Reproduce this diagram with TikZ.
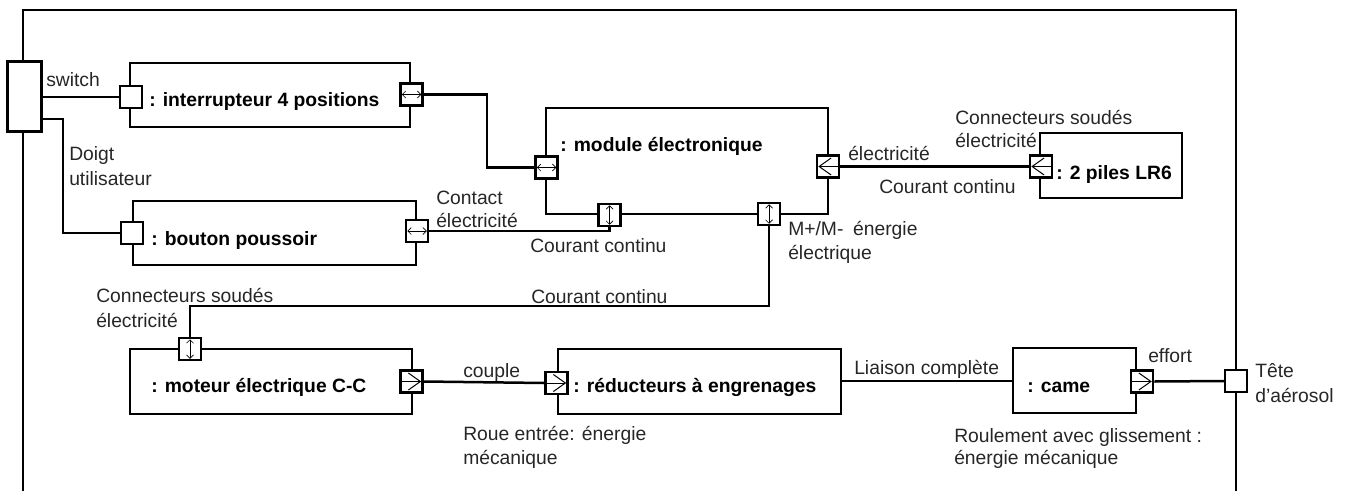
\documentclass[tikz,border=0pt]{standalone}
\usepackage{fontspec}
\setmainfont{Liberation Sans}
\usetikzlibrary{arrows.meta,calc}
\begin{document}
\begin{tikzpicture}[x=1pt,y=-1pt,line width=2.5pt,
  box/.style={draw,line width=2.5pt,inner sep=0pt},
  port/.style={draw,fill=white,line width=2.5pt,minimum size=22pt,inner sep=0pt},
  wire/.style={line width=2.5pt},
  thinwire/.style={line width=1.2pt},
  biarrow/.style={line width=0.7pt,{Straight Barb[length=3.5pt,width=7pt]}-{Straight Barb[length=3.5pt,width=7pt]}},
  chev/.style={line width=1pt,-{Straight Barb[length=12pt,width=17pt]}},
  lbl/.style={anchor=base west,inner sep=0pt,font=\fontsize{19.3}{23}\selectfont,text=black!85},
  ttl/.style={anchor=base west,inner sep=0pt,font=\fontsize{19.3}{23}\selectfont\bfseries}]
\useasboundingbox (0,0) rectangle (1348,490);
% frame
\draw[wire] (23,492) -- (23,10) -- (1236,10) -- (1236,492);
% boxes
\node[box,minimum width=280pt,minimum height=64pt] (int) at (270,95) {};
\node[box,minimum width=283pt,minimum height=64pt] (bp) at (274.5,233) {};
\node[box,minimum width=282pt,minimum height=106pt] (mod) at (687,161) {};
\node[box,minimum width=142pt,minimum height=65pt] (pil) at (1111,165.5) {};
\node[box,minimum width=282pt,minimum height=65pt] (mot) at (271,381.5) {};
\node[box,minimum width=283pt,minimum height=65pt] (red) at (699.5,381.5) {};
\node[box,minimum width=123pt,minimum height=65pt] (came) at (1074.5,380.5) {};
% ports
\node[port,minimum width=34pt,minimum height=70pt] (ext) at (24.5,96.5) {};
\node[port] (pintin) at (131,97) {};
\node[port] (pintout) at (411.5,94.5) {};
\node[port] (pbpin) at (132,233) {};
\node[port] (pbpout) at (417,231) {};
\node[port] (pmodl) at (546.5,167.5) {};
\node[port] (pmodba) at (609.5,215) {};
\node[port] (pmodbb) at (769,214) {};
\node[port] (pmodr) at (828,166.5) {};
\node[port] (ppil) at (1041,166.5) {};
\node[port] (pmott) at (190,349) {};
\node[port] (pmotr) at (411.5,381.5) {};
\node[port] (predl) at (556.5,383) {};
\node[port] (pcamer) at (1142,381.5) {};
\node[port] (ptete) at (1236,381) {};
% connectors
\draw[wire] (pintin.west) -- (pintin.west -| ext.east);
\draw[wire] ($(ext.south east)+(0,-14)$) -- ++(20,0) |- (pbpin.west);
\draw[wire] (pintout.east) -- ++(63,0) |- (pmodl.west);
\draw[wire] (pbpout.east) -| (pmodba.south);
\draw[wire] (pmodbb.south) |- ($(pmott.north)+(0,-31)$) -- (pmott.north);
\draw[wire] (pmodr.east) -- (ppil.west);
\draw[wire] (pmotr.east) -- (predl.west);
\draw[thinwire] (red.east |- 0,381) -- (came.west |- 0,381);
\draw[wire] (pcamer.east) -- (ptete.west);
% port symbols
\draw[biarrow] ($(pintout.west)+(2.5,0)$) -- ($(pintout.east)+(-2.5,0)$);
\draw[biarrow] ($(pbpout.west)+(2.5,0)$) -- ($(pbpout.east)+(-2.5,0)$);
\draw[biarrow] ($(pmodl.west)+(2.5,0)$) -- ($(pmodl.east)+(-2.5,0)$);
\draw[biarrow] ($(pmodba.north)+(0,2.5)$) -- ($(pmodba.south)+(0,-2.5)$);
\draw[biarrow] ($(pmodbb.north)+(0,2.5)$) -- ($(pmodbb.south)+(0,-2.5)$);
\draw[biarrow] ($(pmott.north)+(0,2.5)$) -- ($(pmott.south)+(0,-2.5)$);
\draw[chev] (pmodr.east) -- ($(pmodr.west)+(2.5,0)$);
\draw[chev] (ppil.east) -- ($(ppil.west)+(2.5,0)$);
\draw[chev] (pmotr.west) -- ($(pmotr.east)+(-2.5,0)$);
\draw[chev] (predl.west) -- ($(predl.east)+(-2.5,0)$);
\draw[chev] (pcamer.west) -- ($(pcamer.east)+(-2.5,0)$);
% titles
\node[ttl] (tint) at (148,106) {: interrupteur 4 positions};
\node[ttl] (tbp) at (150,245) {: bouton poussoir};
\node[ttl] (tmod) at (559,151) {: module électronique};
\node[ttl] (tpil) at (1055,179) {: 2 piles LR6};
\node[ttl] (tmot) at (150,392) {: moteur électrique C-C};
\node[ttl] (tred) at (572,392) {: réducteurs à engrenages};
\node[ttl] (tcame) at (1026,392) {: came};
% labels
\node[lbl] (l1) at (45,86) {switch};
\node[lbl] (l2) at (68,160) {Doigt};
\node[lbl] (l3) at (68,185) {utilisateur};
\node[lbl] (l4) at (435,204) {Contact};
\node[lbl] (l5) at (435,227) {électricité};
\node[lbl] (l6) at (529,252) {Courant continu};
\node[lbl] (l7) at (847,160) {électricité};
\node[lbl] (l8) at (954,124) {Connecteurs soudés};
\node[lbl] (l9) at (954,147) {électricité};
\node[lbl] (l10) at (878,193) {Courant continu};
\node[lbl] (l11) at (787,235) {M+/M-\hspace{0.5em}énergie};
\node[lbl] (l12) at (787,259) {électrique};
\node[lbl] (l13) at (530,303) {Courant continu};
\node[lbl] (l14) at (95,302) {Connecteurs soudés};
\node[lbl] (l15) at (95,327) {électricité};
\node[lbl] (l16) at (462,377) {couple};
\node[lbl] (l17) at (462,440) {Roue entrée: énergie};
\node[lbl] (l18) at (462,464) {mécanique};
\node[lbl] (l19) at (853,374) {Liaison complète};
\node[lbl] (l20) at (1147,362) {effort};
\node[lbl] (l21) at (1254,377) {Tête};
\node[lbl] (l22) at (1254,402) {d’aérosol};
\node[lbl] (l23) at (953,442) {Roulement avec glissement :};
\node[lbl] (l24) at (953,464) {énergie mécanique};
\end{tikzpicture}
\end{document}
